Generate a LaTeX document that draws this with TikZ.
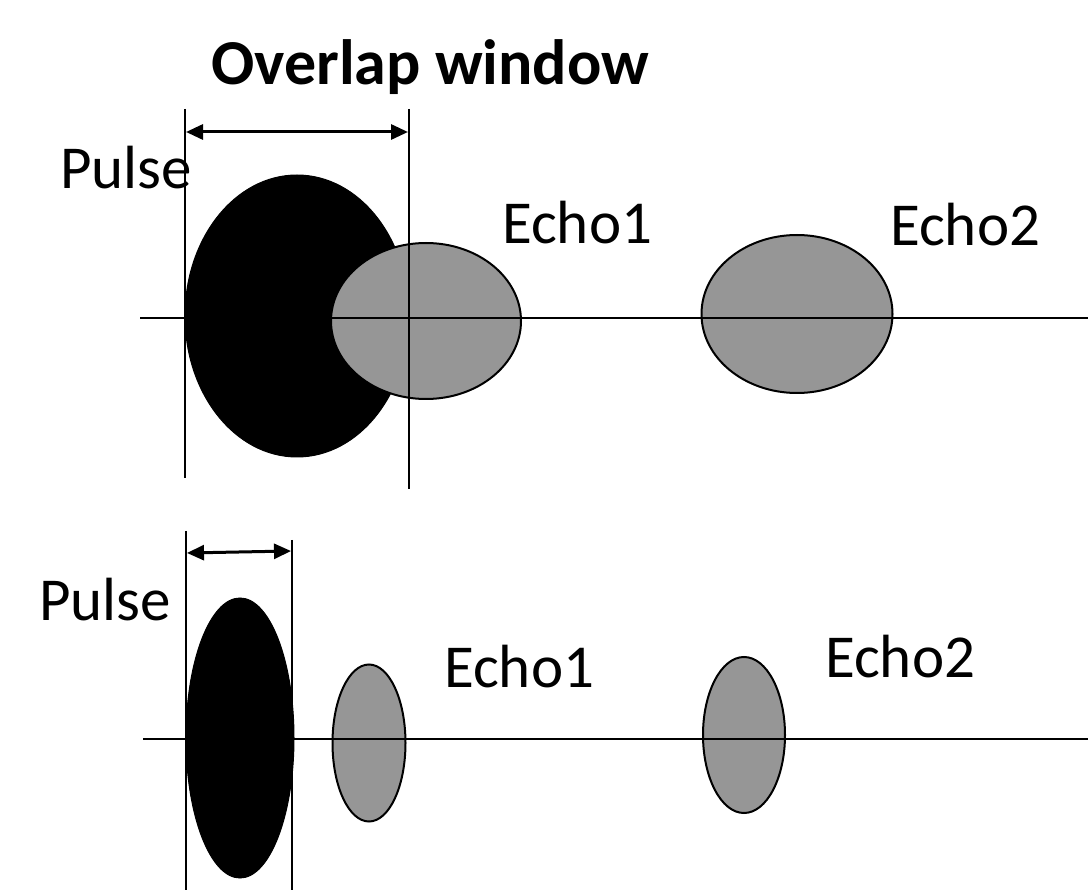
\documentclass[tikz,border=0pt]{standalone}
\usepackage{fontspec}
\setmainfont{Carlito}
\usetikzlibrary{shapes.geometric,arrows.meta}
\definecolor{echogray}{RGB}{150,150,150}
\tikzset{
  pulseblob/.style={ellipse,fill=black,draw=black,line width=1pt,inner sep=0pt,outer sep=0pt},
  echoblob/.style={ellipse,fill=echogray,draw=black,line width=2pt,inner sep=0pt,outer sep=0pt},
  axisline/.style={line width=2pt},
  markline/.style={line width=1.8pt},
  widtharrow/.style={line width=3pt,{Triangle[length=17pt,width=15pt]}-{Triangle[length=17pt,width=15pt]}},
  lbl/.style={anchor=base west,inner sep=0pt,font=\fontsize{61}{72}\selectfont},
  ttl/.style={anchor=base west,inner sep=0pt,font=\fontsize{64}{76}\selectfont\bfseries}
}
\begin{document}
\begin{tikzpicture}[x=1pt,y=-1pt]
\useasboundingbox (0,0) rectangle (1088,890);
% ---------- top panel ----------
\node[pulseblob,minimum width=224pt,minimum height=282pt] (pulseA) at (297,316) {};
\node[echoblob,minimum width=190pt,minimum height=156pt] (echoA1) at (426,321) {};
\node[echoblob,minimum width=191pt,minimum height=158pt] (echoA2) at (797,314) {};
\coordinate (axA0) at (140,318);
\coordinate (axA1) at (1088,318);
\draw[axisline] (axA0) -- (axA1);
\coordinate (vA1t) at (185,109);
\coordinate (vA1b) at (185,478);
\coordinate (vA2t) at (409,109);
\coordinate (vA2b) at (409,489);
\draw[markline] (vA1t) -- (vA1b);
\draw[markline] (vA2t) -- (vA2b);
\coordinate (arA1) at (186,132);
\coordinate (arA2) at (408,132);
\draw[widtharrow] (arA1) -- (arA2);
\node[ttl] (title) at (211,85) {Overlap window};
\node[lbl] (pulseAlbl) at (60,189) {Pulse};
\node[lbl] (echoA1lbl) at (502,244) {Echo1};
\node[lbl] (echoA2lbl) at (890,246) {Echo2};
% ---------- bottom panel ----------
\node[pulseblob,minimum width=108pt,minimum height=280pt] (pulseB) at (240,738) {};
\node[echoblob,minimum width=73pt,minimum height=157pt] (echoB1) at (369,743) {};
\node[echoblob,minimum width=82pt,minimum height=156pt] (echoB2) at (744,735) {};
\coordinate (axB0) at (143,739);
\coordinate (axB1) at (1088,739);
\draw[axisline] (axB0) -- (axB1);
\coordinate (vB1t) at (186,531);
\coordinate (vB1b) at (186,890);
\coordinate (vB2t) at (292,540);
\coordinate (vB2b) at (292,890);
\draw[markline] (vB1t) -- (vB1b);
\draw[markline] (vB2t) -- (vB2b);
\coordinate (arB1) at (187,553);
\coordinate (arB2) at (291,551);
\draw[widtharrow] (arB1) -- (arB2);
\node[lbl] (pulseBlbl) at (39,620) {Pulse};
\node[lbl] (echoB1lbl) at (444,687) {Echo1};
\node[lbl] (echoB2lbl) at (825,677) {Echo2};
\end{tikzpicture}
\end{document}
